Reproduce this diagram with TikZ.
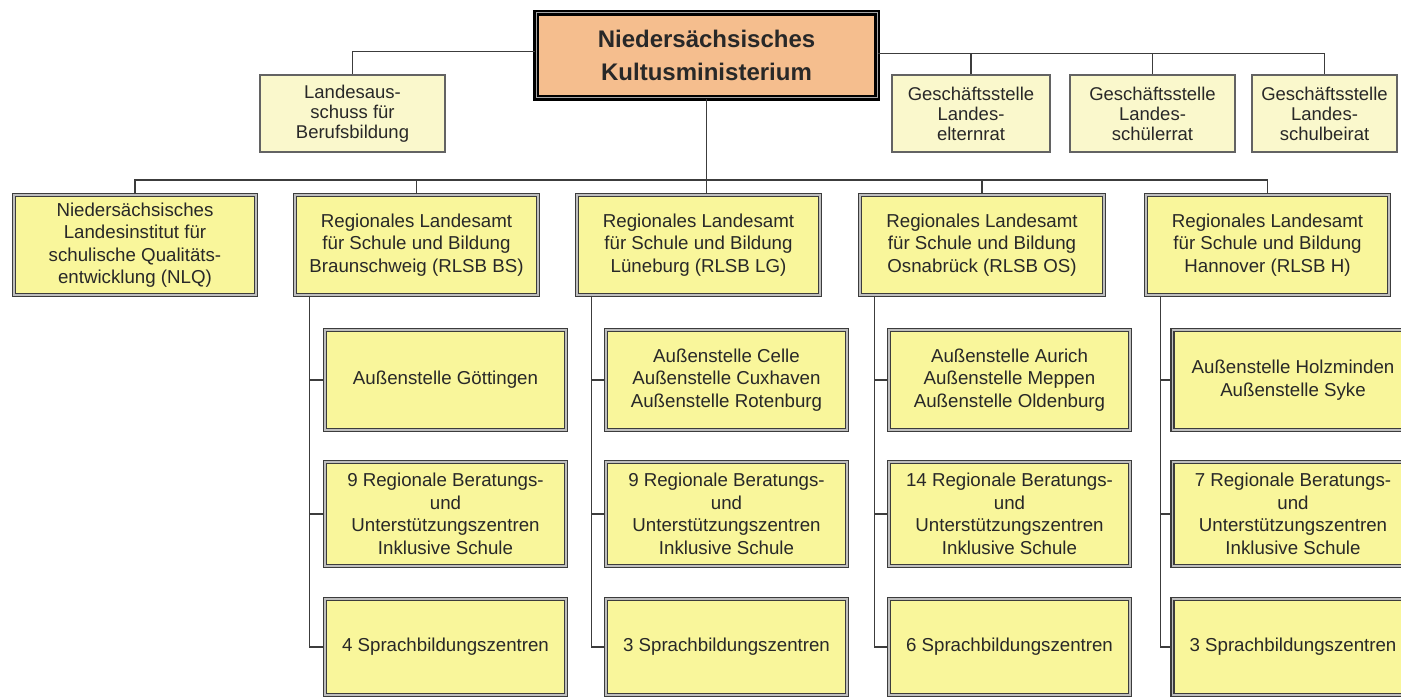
\documentclass[tikz,border=0pt]{standalone}
\usepackage{fontspec}
\setmainfont{Liberation Sans}
\definecolor{peach}{RGB}{245,190,142}
\definecolor{ybox}{RGB}{249,246,155}
\definecolor{cream}{RGB}{250,248,204}
\definecolor{bord}{RGB}{60,60,60}
\definecolor{gap}{RGB}{190,190,190}
\definecolor{txt}{RGB}{40,40,40}
\definecolor{conn}{RGB}{60,60,60}
\begin{document}
\begin{tikzpicture}[x=1pt,y=-1pt,
  every node/.style={align=center, inner sep=0pt, text=txt},
  ministry/.style={fill=peach, draw=black, line width=2.5pt, double=gray!70, double distance=1pt,
    minimum width=341pt, minimum height=85pt, font=\bfseries\fontsize{24}{33}\selectfont},
  smallbox/.style={fill=cream, draw=bord!80, line width=1.3pt, minimum height=77pt,
    font=\fontsize{18.5}{20}\selectfont},
  rbox/.style={fill=ybox, draw=bord, line width=1.5pt, double=gap, double distance=1.5pt,
    minimum width=243pt, font=\fontsize{18.7}{22.5}\selectfont},
  cbox/.style={rbox, minimum width=241pt},
  conline/.style={draw=conn, line width=1.5pt}]
\useasboundingbox (0,0) rectangle (1401,698);
\clip (0,0) rectangle (1401,698);
\fill[white] (0,0) rectangle (1401,698);

% top level
\node[ministry] (min) at (706.5,55.5) {Niedersächsisches\\Kultusministerium};
\node[smallbox, minimum width=185pt] (lab) at (352.5,113.5) {Landesaus-\\schuss für\\Berufsbildung};
\node[smallbox, minimum width=158pt] (g1) at (971,113.5) {Geschäftsstelle\\Landes-\\elternrat};
\node[smallbox, minimum width=165pt] (g2) at (1152.5,113.5) {Geschäftsstelle\\Landes-\\schülerrat};
\node[smallbox, minimum width=145pt] (g3) at (1324.5,113.5) {Geschäftsstelle\\Landes-\\schulbeirat};

% second level
\node[rbox, minimum height=100pt, minimum width=242pt] (nlq) at (135,245) {Niedersächsisches\\Landesinstitut für\\schulische Qualitäts-\\entwicklung (NLQ)};
\node[rbox, minimum height=100pt] (bs) at (416.5,245) {Regionales Landesamt\\für Schule und Bildung\\Braunschweig (RLSB BS)};
\node[rbox, minimum height=100pt] (lg) at (698.5,245) {Regionales Landesamt\\für Schule und Bildung\\Lüneburg (RLSB LG)};
\node[rbox, minimum height=100pt, minimum width=244pt] (os) at (982,245) {Regionales Landesamt\\für Schule und Bildung\\Osnabrück (RLSB OS)};
\node[rbox, minimum height=100pt] (h) at (1267.5,245) {Regionales Landesamt\\für Schule und Bildung\\Hannover (RLSB H)};

% children BS
\node[cbox, minimum height=100pt] (bsA) at (445.5,380) {Außenstelle Göttingen};
\node[cbox, minimum height=104pt] (bsB) at (445.5,514) {9 Regionale Beratungs-\\und\\Unterstützungszentren\\Inklusive Schule};
\node[cbox, minimum height=96pt] (bsC) at (445.5,647) {4 Sprachbildungszentren};
% children LG
\node[cbox, minimum height=100pt] (lgA) at (726.5,380) {Außenstelle Celle\\Außenstelle Cuxhaven\\Außenstelle Rotenburg};
\node[cbox, minimum height=104pt] (lgB) at (726.5,514) {9 Regionale Beratungs-\\und\\Unterstützungszentren\\Inklusive Schule};
\node[cbox, minimum height=96pt] (lgC) at (726.5,647) {3 Sprachbildungszentren};
% children OS
\node[cbox, minimum height=100pt] (osA) at (1009.5,380) {Außenstelle Aurich\\Außenstelle Meppen\\Außenstelle Oldenburg};
\node[cbox, minimum height=104pt] (osB) at (1009.5,514) {14 Regionale Beratungs-\\und\\Unterstützungszentren\\Inklusive Schule};
\node[cbox, minimum height=96pt] (osC) at (1009.5,647) {6 Sprachbildungszentren};
% children H
\node[cbox, minimum height=100pt] (hA) at (1293,380) {Außenstelle Holzminden\\Außenstelle Syke};
\node[cbox, minimum height=104pt] (hB) at (1293,514) {7 Regionale Beratungs-\\und\\Unterstützungszentren\\Inklusive Schule};
\node[cbox, minimum height=96pt] (hC) at (1293,647) {3 Sprachbildungszentren};

% connectors top
\coordinate (lbar) at ([yshift=4pt]min.west);
\coordinate (rbar) at ([yshift=2pt]min.east);
\draw[conline] (lbar) -| (lab.north);
\draw[conline] (rbar) -| (g3.north);
\draw[conline] (g1.north) -- (g1.north |- rbar);
\draw[conline] (g2.north) -- (g2.north |- rbar);

% main bar
\coordinate (bar) at (706.5,180);
\draw[conline] (min.south) -- (min.south |- lg.north);
\draw[conline] (nlq.north) |- (bar) -| (h.north);
\draw[conline] (bs.north) -- (bs.north |- bar);
\draw[conline] (os.north) -- (os.north |- bar);

% column connectors
\foreach \p in {bs,lg,os,h}{
  \draw[conline] ([xshift=15pt]\p.south west) |- (\p C.west);
  \draw[conline] ([xshift=15pt]\p.south west |- \p A.west) -- (\p A.west);
  \draw[conline] ([xshift=15pt]\p.south west |- \p B.west) -- (\p B.west);
}
\end{tikzpicture}
\end{document}
